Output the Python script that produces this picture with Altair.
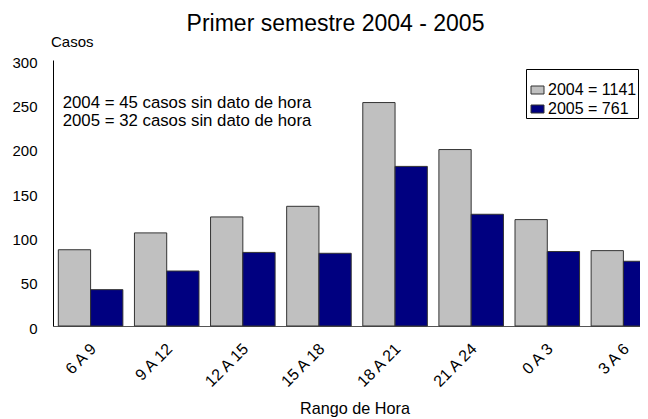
import altair as alt
import pandas as pd

categories = ["6 A 9", "9 A 12", "12 A 15", "15 A 18", "18 A 21", "21 A 24", "0 A 3", "3 A 6"]
series = ["2004 = 1141", "2005 = 761"]
v2004 = [86, 105, 123, 135, 252, 199, 120, 85]
v2005 = [41, 62, 83, 82, 180, 126, 84, 73]
y_ticks = [0, 50, 100, 150, 200, 250, 300]
colors = ["#C0C0C0", "#000080"]

title_text = "Primer semestre 2004 - 2005"
y_title = "Casos"
x_title = "Rango de Hora"
notes = ["2004 = 45 casos sin dato de hora", "2005 = 32 casos sin dato de hora"]

FONT = "Liberation Sans"

rows = []
for c, a, b in zip(categories, v2004, v2005):
    rows.append({"cat": c, "serie": series[0], "val": a})
    rows.append({"cat": c, "serie": series[1], "val": b})
df = pd.DataFrame(rows)

bars = alt.Chart(df).mark_bar(stroke="#333333", strokeWidth=1).encode(
    x=alt.X("cat:N", sort=categories,
            scale=alt.Scale(range=[0, 608], paddingInner=0.152, paddingOuter=0.07),
            axis=alt.Axis(title=None, ticks=False, domainColor="#555555", domainWidth=1,
                          labelAngle=315, labelAlign="right", labelBaseline="middle",
                          labelPadding=20, labelOffset=3, labelFontSize=16,
                          labelFont=FONT, labelColor="black")),
    xOffset=alt.XOffset("serie:N", sort=series, scale=alt.Scale(paddingInner=0, paddingOuter=0)),
    y=alt.Y("val:Q", scale=alt.Scale(domain=[0, 300], nice=False),
            axis=alt.Axis(title=None, values=y_ticks, ticks=False, grid=False,
                          domainColor="black", domainWidth=1, labelPadding=16,
                          labelFontSize=15, labelFont=FONT, labelColor="black",
                          labelOffset=2)),
    fill=alt.Fill("serie:N", sort=series,
                  scale=alt.Scale(domain=series, range=colors),
                  legend=alt.Legend(title=" ", titleFontSize=2, titlePadding=7.5,
                                    orient="none", legendX=473, legendY=9,
                                    direction="vertical",
                                    strokeColor="black", fillColor="white", padding=1,
                                    labelFont=FONT, labelFontSize=16, labelColor="black",
                                    symbolType="M-0.65,-0.4H0.65V0.4H-0.65Z", symbolSize=400,
                                    symbolStrokeColor="#333333", symbolStrokeWidth=1,
                                    symbolOpacity=1, rowPadding=0, labelOffset=0)),
)

title_layer = alt.Chart(pd.DataFrame({"t": [title_text]})).mark_text(
    align="center", baseline="alphabetic", fontSize=23, font=FONT, color="black"
).encode(text="t:N", x=alt.value(282.5), y=alt.value(-29))

ytitle_layer = alt.Chart(pd.DataFrame({"t": [y_title]})).mark_text(
    align="left", baseline="alphabetic", fontSize=15, font=FONT, color="black"
).encode(text="t:N", x=alt.value(-2), y=alt.value(-13))

xtitle_layer = alt.Chart(pd.DataFrame({"t": [x_title]})).mark_text(
    align="center", baseline="alphabetic", fontSize=16.2, font=FONT, color="black"
).encode(text="t:N", x=alt.value(302), y=alt.value(354))

notes_layer = alt.Chart(pd.DataFrame({"t": [notes[0]]})).mark_text(
    align="left", baseline="alphabetic", fontSize=16.8, font=FONT, color="black", lineHeight=18
).encode(text=alt.value(notes), x=alt.value(9.7), y=alt.value(48))

chart = alt.layer(bars, title_layer, ytitle_layer, xtitle_layer, notes_layer).properties(
    width=587, height=266,
    autosize=alt.AutoSizeParams(type="none"),
    padding={"left": 45, "top": 52, "right": 0, "bottom": 93},
    background="white",
).configure_view(stroke=None)

chart.save("out.html", embed_options={"renderer": "svg", "actions": False})
